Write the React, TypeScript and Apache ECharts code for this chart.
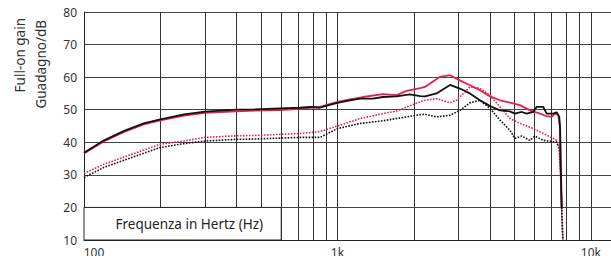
import React, { useEffect, useRef } from 'react';
import * as echarts from 'echarts';

// [frequency Hz, gain dB]
const blackSolid: [number, number][] = [
  [100, 36.8], [120, 40.6], [144, 43.5], [172, 45.8], [200, 47.0], [248, 48.6], [300, 49.4],
  [400, 50.0], [470, 50.1], [593, 50.4], [711, 50.6], [779, 50.9], [853, 50.6], [893, 51.1],
  [1000, 52.1], [1120, 52.9], [1230, 53.4], [1380, 53.4], [1510, 53.9], [1710, 54.1], [1930, 54.7],
  [2120, 54.2], [2215, 54.1], [2460, 55.0], [2780, 57.6], [3040, 56.5], [3330, 55.0], [3650, 52.9],
  [4000, 51.1], [4375, 49.8], [4790, 49.5], [5010, 48.8], [5330, 49.3], [5580, 48.8], [5920, 49.3],
  [6110, 50.9], [6480, 50.9], [6690, 48.8], [7100, 48.8], [7320, 49.2], [7500, 47.8], [7560, 44],
  [7620, 30], [7670, 19.6],
];
const redSolid: [number, number][] = [
  [100, 36.6], [120, 40.3], [144, 43.2], [172, 45.5], [200, 46.7], [248, 48.2], [300, 49.0],
  [400, 49.5], [470, 49.7], [593, 49.9], [711, 50.3], [853, 50.9], [1000, 52.4], [1120, 53.2],
  [1260, 53.9], [1510, 54.8], [1710, 54.5], [1875, 55.8], [2120, 56.6], [2215, 57.0], [2540, 60.1],
  [2780, 60.6], [3040, 59.0], [3330, 57.5], [3650, 56.0], [4000, 54.1], [4375, 52.9], [4790, 52.2],
  [5250, 51.4], [5750, 49.8], [6300, 48.8], [6690, 48.0], [7000, 47.8], [7210, 48.8], [7430, 48.5],
  [7540, 45], [7600, 30], [7660, 20],
];
const redDotted: [number, number][] = [
  [100, 30.4], [120, 33.3], [144, 35.5], [172, 37.6], [200, 39.4], [248, 40.4], [300, 41.5],
  [400, 42.0], [470, 42.1], [711, 42.7], [853, 43.3], [1000, 45.0], [1230, 47.3], [1510, 48.8],
  [1710, 49.6], [1930, 51.2], [2120, 52.4], [2215, 52.9], [2460, 53.4], [2780, 52.1], [2950, 52.9],
  [3330, 57.0], [3650, 56.6], [4000, 54.4], [4375, 50.9], [4790, 47.3], [5250, 45.8], [5920, 44.2],
  [6690, 42.2], [7320, 40.6], [7500, 39], [7600, 30], [7700, 15], [7760, 10],
];
const blackDotted: [number, number][] = [
  [100, 29.2], [120, 32.3], [144, 34.5], [172, 36.6], [200, 38.4], [248, 39.6], [300, 40.4],
  [400, 40.9], [470, 41.0], [711, 41.5], [853, 41.5], [1000, 44.2], [1230, 45.8], [1510, 46.6],
  [1710, 47.3], [2120, 48.5], [2215, 48.6], [2460, 47.8], [2780, 48.3], [3040, 49.8], [3330, 52.1],
  [3650, 52.9], [4000, 50.4], [4375, 46.8], [4790, 43.7], [5010, 41.2], [5330, 41.9], [5750, 40.6],
  [6010, 41.9], [6480, 40.6], [7320, 40.1], [7500, 38], [7600, 30], [7700, 15], [7760, 10],
];

const gridFreqs = [200, 300, 400, 500, 600, 700, 800, 900, 1000, 2000, 3000, 4000, 5000, 6000, 7000, 8000, 9000, 10000];
const xTickLabels: [number, string][] = [[100, '100'], [1000, '1k'], [10000, '10k']];
const yTitle = ['Full-on gain', 'Guadagno/dB'];
const boxLabel = 'Frequenza in Hertz (Hz)';
const boxRange: [[number, number], [number, number]] = [[100, 10], [600, 20]];

const FONT = '"Noto Sans", sans-serif';
const RED = '#e5214e';
const BLACK = '#111111';

export default function App() {
  const ref = useRef<HTMLDivElement>(null);
  useEffect(() => {
    if (!ref.current) return;
    const chart = echarts.init(ref.current, undefined, { renderer: 'svg' });
    const dotted = [1.6, 1.4];
    chart.setOption({
      animation: false,
      backgroundColor: '#ffffff',
      textStyle: { fontFamily: FONT },
      grid: { left: 84, top: 12, right: 0, bottom: 16, containLabel: false, outerBoundsMode: 'none' },
      xAxis: {
        type: 'log',
        logBase: 10,
        min: 100,
        max: 12000,
        axisLine: { show: true, lineStyle: { color: '#222', width: 1 } },
        axisTick: { show: false },
        splitLine: { show: false },
        minorTick: { show: false },
        axisLabel: {
          margin: 6,
          fontSize: 12,
          color: '#333',
          fontFamily: FONT,
          showMaxLabel: false,
          formatter: (v: number) => {
            for (const [f, s] of xTickLabels) {
              if (Math.abs(v - f) < 1) return f === 100 ? '{a|' + s + '}' : s;
            }
            return '';
          },
          rich: { a: { padding: [0, 0, 0, 20], fontSize: 12, color: '#333', fontFamily: FONT } },
        },
      },
      yAxis: {
        type: 'value',
        min: 10,
        max: 80,
        interval: 10,
        axisLine: { show: true, lineStyle: { color: '#222', width: 1 } },
        axisTick: { show: false },
        splitLine: { show: true, lineStyle: { color: '#444', width: 1 } },
        axisLabel: { margin: 7, fontSize: 12, color: '#333', fontFamily: FONT },
      },
      graphic: [
        {
          type: 'text', x: 20, y: 18, rotation: Math.PI / 2,
          style: { text: yTitle[0], align: 'right', textAlign: 'right', verticalAlign: 'middle', textVerticalAlign: 'middle', fontSize: 13.5, fill: '#333', fontFamily: FONT },
        },
        {
          type: 'text', x: 41, y: 20, rotation: Math.PI / 2,
          style: { text: yTitle[1], align: 'right', textAlign: 'right', verticalAlign: 'middle', textVerticalAlign: 'middle', fontSize: 13.5, fill: '#333', fontFamily: FONT },
        },
      ],
      series: [
        {
          name: 'grid', type: 'line', data: [], silent: true, z: 1,
          markLine: {
            z: 1, silent: true, symbol: ['none', 'none'], animation: false,
            label: { show: false },
            lineStyle: { color: '#333', width: 1, type: 'solid' },
            emphasis: { disabled: true },
            data: gridFreqs.map((f) => ({ xAxis: f })),
          },
        },
        {
          name: 'box', type: 'line', data: [], silent: true, z: 3,
          markArea: {
            z: 3, silent: true,
            itemStyle: { color: '#ffffff', borderColor: '#222', borderWidth: 1 },
            label: { show: true, position: 'insideLeft', distance: 32, color: '#222', fontSize: 13.5, fontFamily: FONT },
            data: [[{ coord: boxRange[0], name: boxLabel }, { coord: boxRange[1] }]],
          },
        },
        { name: 'redDotted', type: 'line', data: redDotted, showSymbol: false, symbol: 'none', z: 4, lineStyle: { color: RED, width: 1.6, type: dotted } },
        { name: 'blackDotted', type: 'line', data: blackDotted, showSymbol: false, symbol: 'none', z: 4, lineStyle: { color: BLACK, width: 1.6, type: dotted } },
        { name: 'redSolid', type: 'line', data: redSolid, showSymbol: false, symbol: 'none', z: 5, lineStyle: { color: RED, width: 1.8 } },
        { name: 'blackSolid', type: 'line', data: blackSolid, showSymbol: false, symbol: 'none', z: 6, lineStyle: { color: BLACK, width: 1.8 } },
      ],
    });
    return () => chart.dispose();
  }, []);
  return <div ref={ref} style={{ position: 'fixed', left: 0, top: 0, width: 611, height: 256 }} />;
}
